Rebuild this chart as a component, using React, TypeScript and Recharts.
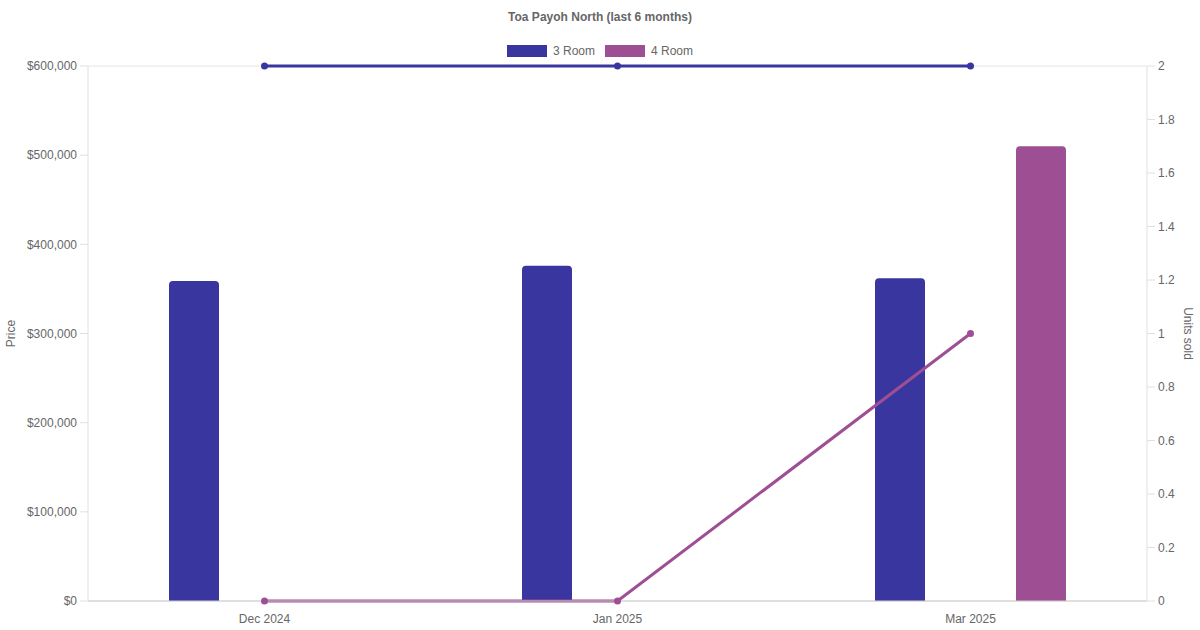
import {
    ComposedChart,
    Bar,
    Line,
    XAxis,
    YAxis,
    CartesianGrid
} from "recharts";

const months = ["Dec 2024", "Jan 2025", "Mar 2025"];
const price3Room = [359000, 376000, 362000];
const price4Room = [null, null, 510000];
const units3Room = [2, 2, 2];
const units4Room = [0, 0, 1];
const priceTicks = [0, 100000, 200000, 300000, 400000, 500000, 600000];
const unitTicks = [0, 0.2, 0.4, 0.6, 0.8, 1, 1.2, 1.4, 1.6, 1.8, 2];

const BLUE = "#3a36a0";
const PURPLE = "#9e4f94";
const FONT = "'Liberation Sans', Arial, sans-serif";

const data = months.map((m, i) => ({
    month: m,
    p3: price3Room[i],
    p4: price4Room[i],
    u3: units3Room[i],
    u4: units4Room[i]
}));

const fmtPrice = (v: number) => "$" + v.toLocaleString("en-US");

// rotated axis title, centred on the plot height
const axisTitle = (text: string, x: number, angle: number) => (props: any) => {
    const vb = props.viewBox || {};
    const cy = vb.y + vb.height / 2;
    return (
        <text
            x={x}
            y={cy}
            transform={`rotate(${angle}, ${x}, ${cy})`}
            textAnchor="middle"
            dominantBaseline="central"
            fill="#666"
            fontSize={12}
            fontFamily={FONT}
        >
            {text}
        </text>
    );
};

function LegendBox() {
    const items = [
        { label: "3 Room", color: BLUE },
        { label: "4 Room", color: PURPLE }
    ];
    return (
        <div style={{ position: "absolute", top: 44, width: 1200, display: "flex", justifyContent: "center", gap: 10, fontSize: 12, color: "#666" }}>
            {items.map(it => (
                <div key={it.label} style={{ display: "flex", alignItems: "center" }}>
                    <span style={{ display: "inline-block", width: 40, height: 12, background: it.color, marginRight: 6 }} />
                    {it.label}
                </div>
            ))}
        </div>
    );
}

export default function App() {
    return (
        <div style={{ position: "absolute", left: 0, top: 0, width: 1200, height: 630, background: "#fff", fontFamily: FONT }}>
            <div style={{ position: "absolute", top: 10, width: 1200, textAlign: "center", fontWeight: "bold", fontSize: 12, color: "#666" }}>
                Toa Payoh North (last 6 months)
            </div>
            <LegendBox />
            <ComposedChart
                width={1200}
                height={630}
                data={data}
                margin={{ top: 66, right: 0, bottom: 0, left: 0 }}
                barGap={91}
                barCategoryGap="10%"
            >
                <CartesianGrid vertical={false} stroke="#e5e5e5" />
                <XAxis
                    dataKey="month"
                    height={29}
                    tickLine={false}
                    tickSize={8}
                    tickMargin={5}
                    stroke="#cccccc"
                    tick={{ fill: "#666", fontSize: 12, fontFamily: FONT }}
                />
                <YAxis
                    yAxisId="price"
                    width={88}
                    domain={[0, 600000]}
                    ticks={priceTicks}
                    tickFormatter={fmtPrice}
                    tickSize={8}
                    tickMargin={3}
                    stroke="#e0e0e0"
                    tick={{ fill: "#666", fontSize: 12, fontFamily: FONT }}
                    label={{ content: axisTitle("Price", 11, -90) }}
                />
                <YAxis
                    yAxisId="units"
                    orientation="right"
                    width={53}
                    domain={[0, 2]}
                    ticks={unitTicks}
                    tickSize={8}
                    tickMargin={3}
                    stroke="#e0e0e0"
                    tick={{ fill: "#666", fontSize: 12, fontFamily: FONT }}
                    label={{ content: axisTitle("Units sold", 1188, 90) }}
                />
                <Bar yAxisId="price" dataKey="p3" name="3 Room" fill={BLUE} barSize={50} radius={[4, 4, 0, 0]} isAnimationActive={false} />
                <Bar yAxisId="price" dataKey="p4" name="4 Room" fill={PURPLE} barSize={50} radius={[4, 4, 0, 0]} isAnimationActive={false} />
                <Line yAxisId="units" dataKey="u3" stroke={BLUE} strokeWidth={3} dot={{ r: 3.5, fill: BLUE, stroke: BLUE, strokeWidth: 0 }} isAnimationActive={false} />
                <Line yAxisId="units" dataKey="u4" stroke={PURPLE} strokeWidth={3} dot={{ r: 3.5, fill: PURPLE, stroke: PURPLE, strokeWidth: 0 }} isAnimationActive={false} />
            </ComposedChart>
        </div>
    );
}
